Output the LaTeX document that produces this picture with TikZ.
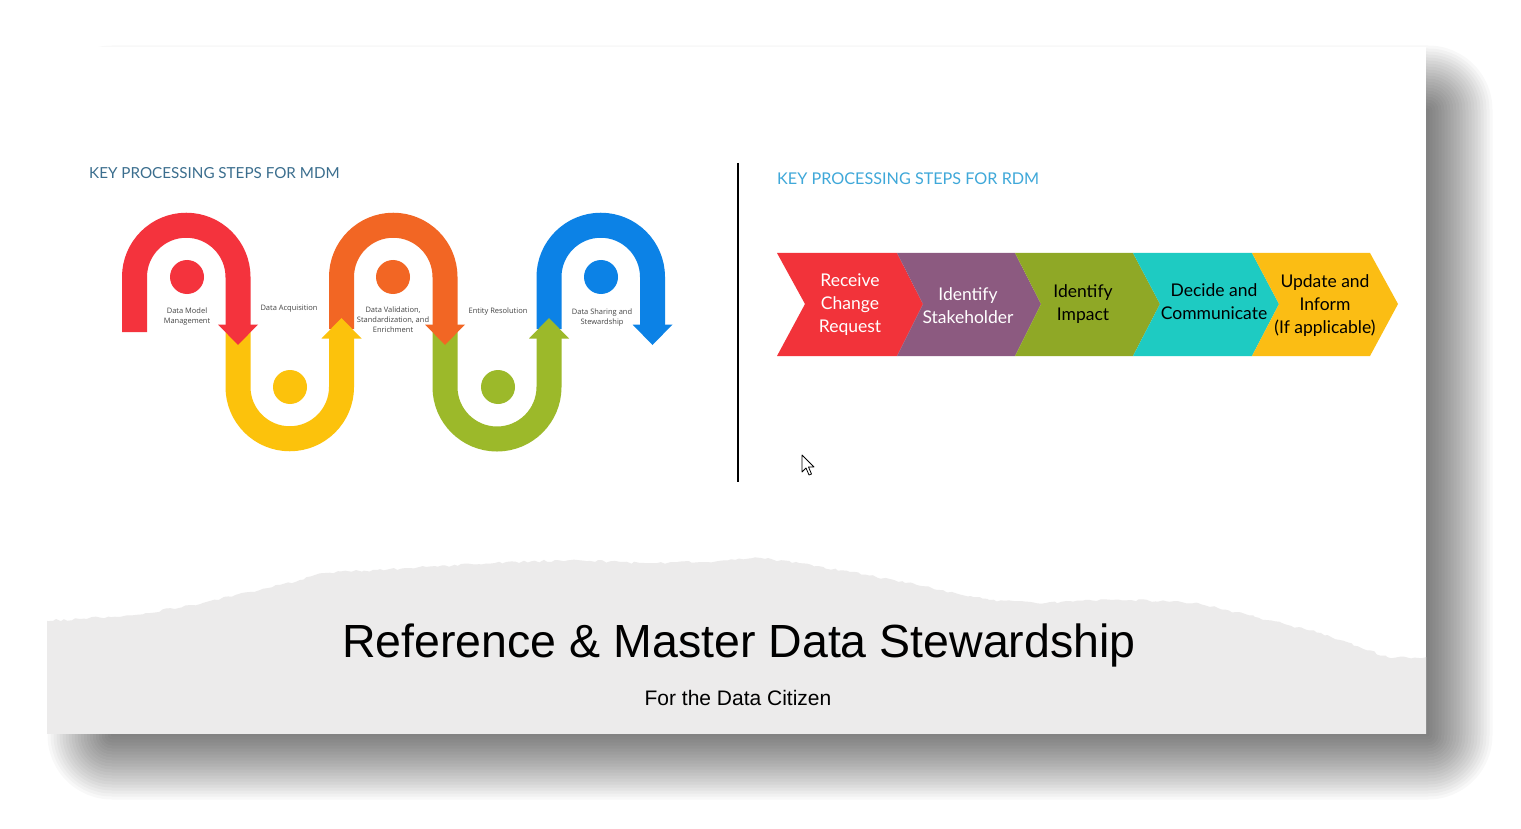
\documentclass[tikz,border=0pt]{standalone}
\usepackage{fontspec}
\usetikzlibrary{decorations.pathmorphing}
\setmainfont{Liberation Sans}
\newfontfamily\lato{Lato}
\newfontfamily\osans{Open Sans}
\definecolor{cRed}{HTML}{F4333D}
\definecolor{cYel}{HTML}{FCC20C}
\definecolor{cOra}{HTML}{F26624}
\definecolor{cGrn}{HTML}{9CB92A}
\definecolor{cBlu}{HTML}{0C82E6}
\definecolor{chRed}{HTML}{F2333A}
\definecolor{chPur}{HTML}{8C5A80}
\definecolor{chGrn}{HTML}{8FA826}
\definecolor{chTea}{HTML}{1ECBC2}
\definecolor{chYel}{HTML}{FBBD14}
\definecolor{mdmT}{HTML}{3B6E8E}
\definecolor{rdmT}{HTML}{3FA8D9}
\definecolor{band}{HTML}{ECEBEB}
\definecolor{lbl}{HTML}{444444}
\tikzset{
  snake/.style={line width=25pt},
  lab/.style={font=\osans\fontsize{7.5}{10}\selectfont, text=lbl, align=center, inner sep=0},
  chev/.style={font=\lato\fontsize{17.5}{23}\selectfont, align=center, inner sep=0},
  head/.style={anchor=west, inner sep=0},
}
\begin{document}
\begin{tikzpicture}[x=1pt,y=-1pt]
\useasboundingbox (0,0) rectangle (1521,829);
\fill[white] (0,0) rectangle (1521,829);
% shadow
\foreach \e in {1.5,4.5,...,64.5}
  \fill[black, opacity=0.028, rounded corners=\e] (112-\e,110-\e) rectangle (1428+\e,735+\e);
% slide
\fill[white] (47,47) rectangle (1426,733);
\begin{scope}
\clip (47,47) rectangle (1426,733);
\pgfmathsetseed{7}
\fill[band, decorate, decoration={random steps, segment length=4pt, amplitude=1.2pt}] (40,740) -- (40,621) -- (80,619) -- (135,615) -- (192,605) -- (260,590) -- (300,580) -- (325,573) -- (410,568) -- (495,563) -- (571,560) -- (640,563) -- (704,562) -- (761,558) -- (799,563) -- (850,572) -- (894,580) -- (940,590) -- (989,600) -- (1046,603) -- (1090,600) -- (1131,600) -- (1198,603) -- (1255,617) -- (1321,633) -- (1387,657) -- (1433,658) -- (1433,740) -- cycle;
\end{scope}

% headings
\node[head, text=mdmT, font=\lato\fontsize{15.2}{18}\selectfont] (hm) at (89,173) {KEY PROCESSING STEPS FOR MDM};
\node[head, text=rdmT, font=\lato\fontsize{16.2}{18}\selectfont] (hr) at (777,179) {KEY PROCESSING STEPS FOR RDM};

% divider
\coordinate (d1) at (738,163);
\coordinate (d2) at (738,482);
\draw[line width=2.6pt] (d1) -- (d2);

% snake bands
\draw[snake, cRed] (134.5,332) -- (134.5,277) arc[start angle=180, end angle=360, radius=51.75] -- (238,325);
\draw[snake, cYel] (238,332) -- (238,387) arc[start angle=180, end angle=0, radius=51.75] -- (341.5,338);
\draw[snake, cOra] (341.5,329) -- (341.5,277) arc[start angle=180, end angle=360, radius=51.75] -- (445,325);
\draw[snake, cGrn] (445,332) -- (445,387) arc[start angle=180, end angle=0, radius=52] -- (549,338);
\draw[snake, cBlu] (549,329) -- (549,277) arc[start angle=180, end angle=360, radius=51.75] -- (652.5,325);
% arrowheads
\fill[cRed] (218,324.5) -- (258,324.5) -- (238,345) -- cycle;
\fill[cYel] (321.5,338.5) -- (361.5,338.5) -- (341.5,318) -- cycle;
\fill[cOra] (425,324.5) -- (465,324.5) -- (445,345) -- cycle;
\fill[cGrn] (529,338.5) -- (569,338.5) -- (549,318) -- cycle;
\fill[cBlu] (632.5,324.5) -- (672.5,324.5) -- (652.5,345) -- cycle;
% dots
\fill[cRed] (187,277) circle[radius=17];
\fill[cYel] (290,387) circle[radius=17];
\fill[cOra] (393,277) circle[radius=17];
\fill[cGrn] (498,387) circle[radius=17];
\fill[cBlu] (601,277) circle[radius=17];
% labels
\node[lab] (l1) at (187,316.5) {Data Model\\Management};
\node[lab] (l2) at (289,309) {Data Acquisition};
\node[lab] (l3) at (393,319.5) {Data Validation,\\Standardization, and\\Enrichment};
\node[lab] (l4) at (498,312) {Entity Resolution};
\node[lab] (l5) at (602,317.5) {Data Sharing and\\Stewardship};

% chevrons
\fill[chRed] (777,253) -- (897,253) -- (923,304) -- (897,356) -- (777,356) -- (805,304) -- cycle;
\fill[chPur] (897,253) -- (1015,253) -- (1041,304) -- (1015,356) -- (897,356) -- (923,304) -- cycle;
\fill[chGrn] (1015,253) -- (1133,253) -- (1160,304) -- (1133,356) -- (1015,356) -- (1041,304) -- cycle;
\fill[chTea] (1133,253) -- (1252,253) -- (1279,304) -- (1252,356) -- (1133,356) -- (1160,304) -- cycle;
\fill[chYel] (1252,253) -- (1370,253) -- (1398,304) -- (1370,356) -- (1252,356) -- (1279,304) -- cycle;
\node[chev, text=white] (c1) at (850,305) {Receive\\Change\\Request};
\node[chev, text=white] (c2) at (968,306) {Identify\\Stakeholder};
\node[chev, text=black] (c3) at (1083,304) {Identify\\Impact};
\node[chev, text=black] (c4) at (1214,302) {Decide and\\Communicate};
\node[chev, text=black] (c5) at (1325,306) {Update and\\Inform\\(If applicable)};

% cursor
\draw[fill=white, line width=0.8pt, line join=round] (802,455) -- (802,472) -- (806,468) -- (809,475) -- (811.5,474) -- (808.5,467) -- (814,467) -- cycle;

% title
\node[font=\fontsize{46.5}{50}\selectfont, inner sep=0] (title) at (739,645) {Reference \& Master Data Stewardship};
\node[font=\fontsize{21}{24}\selectfont, inner sep=0] (sub) at (738,698) {For the Data Citizen};
\end{tikzpicture}
\end{document}
